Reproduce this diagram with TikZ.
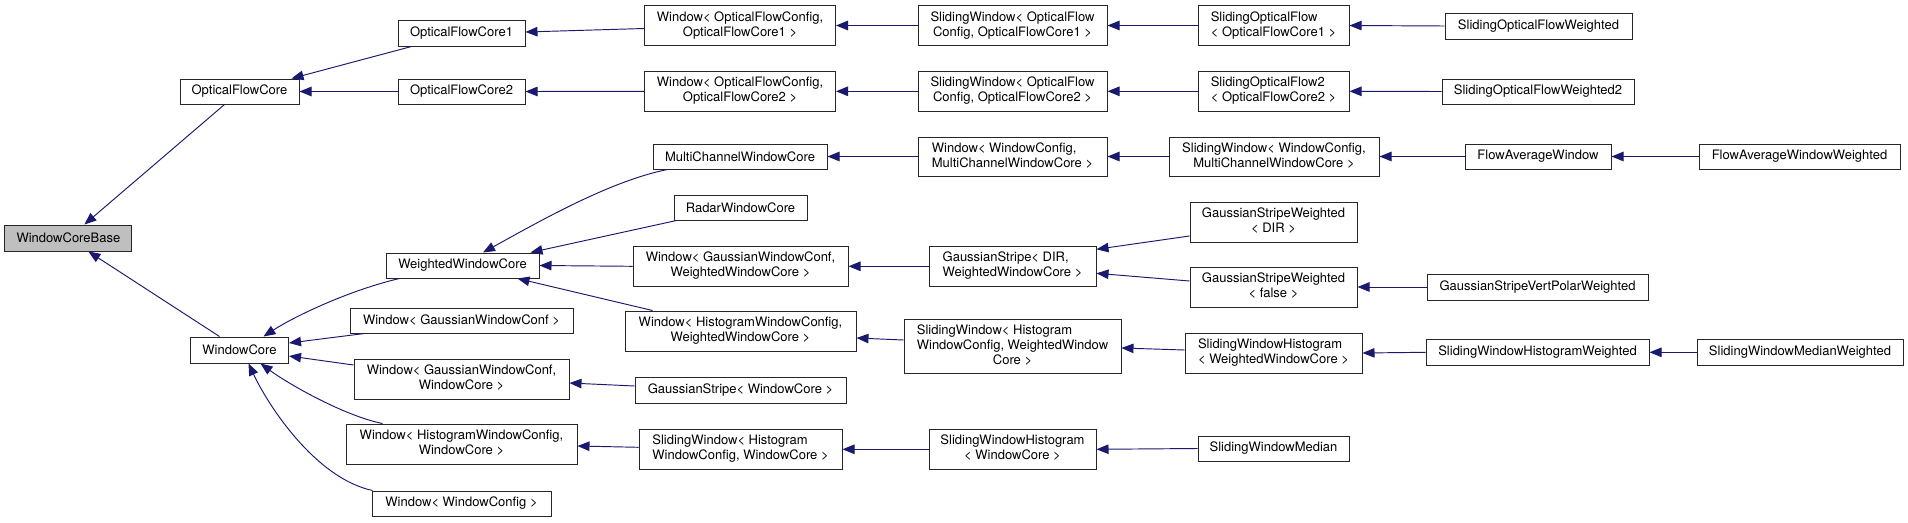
\documentclass[tikz,border=0pt]{standalone}
\usepackage{fontspec}
\setmainfont{TeX Gyre Heros}
\usetikzlibrary{arrows.meta,calc}
\definecolor{edgeblue}{RGB}{25,25,112}
\definecolor{rootgray}{RGB}{191,191,191}
\newcommand{\twoline}[2]{\begin{tabular}{@{}l@{}}#1\\\multicolumn{1}{@{}c@{}}{#2}\end{tabular}}
\newcommand{\threeline}[3]{\begin{tabular}{@{}l@{}}#1\\#2\\\multicolumn{1}{@{}c@{}}{#3}\end{tabular}}
\begin{document}
\begin{tikzpicture}[x=1pt,y=-1pt,
  box/.style={draw=black!85, line width=1pt, fill=white, inner sep=0pt,
    font=\fontsize{13}{15}\selectfont, align=center},
  sz/.style 2 args={minimum width=#1pt, minimum height=#2pt},
  edge/.style={draw=edgeblue, line width=0.95pt, {Triangle[length=12pt,width=9.5pt]}-}]
\fill[white] (0,0) rectangle (1908,522);
\useasboundingbox (0,0) rectangle (1908,522);
% column 1
\node[box,sz={127}{26},fill=rootgray] (wcb) at (68.4,238) {WindowCoreBase};
% column 2
\node[box,sz={119}{25}] (ofc) at (239.5,91.5) {OpticalFlowCore};
\node[box,sz={98}{26}] (wc) at (239.5,350) {WindowCore};
% column 3
\node[box,sz={127}{26}] (ofc1) at (461.5,33) {OpticalFlowCore1};
\node[box,sz={127}{25}] (ofc2) at (461.5,91.5) {OpticalFlowCore2};
\node[box,sz={153}{25}] (wwc) at (462.5,265.5) {WeightedWindowCore};
\node[box,sz={223}{25}] (wg) at (461.5,320.5) {Window< GaussianWindowConf >};
\node[box,sz={215}{40}] (wgc) at (461.5,379) {\twoline{Window< GaussianWindowConf,}{WindowCore >}};
\node[box,sz={231}{40}] (whc) at (461.5,444) {\twoline{Window< HistogramWindowConfig,}{WindowCore >}};
\node[box,sz={179}{25}] (wcfg) at (461.5,503.5) {Window< WindowConfig >};
% column 4
\node[box,sz={191}{40}] (wof1) at (740,25.5) {\twoline{Window< OpticalFlowConfig,}{OpticalFlowCore1 >}};
\node[box,sz={191}{40}] (wof2) at (740,91.3) {\twoline{Window< OpticalFlowConfig,}{OpticalFlowCore2 >}};
\node[box,sz={174}{25}] (mcwc) at (740,156.5) {MultiChannelWindowCore};
\node[box,sz={133}{25}] (rwc) at (740.5,207.5) {RadarWindowCore};
\node[box,sz={215}{40}] (wgw) at (740.5,266.3) {\twoline{Window< GaussianWindowConf,}{WeightedWindowCore >}};
\node[box,sz={231}{40}] (whw) at (740.5,331) {\twoline{Window< HistogramWindowConfig,}{WeightedWindowCore >}};
\node[box,sz={211}{26}] (gswc) at (740.5,390) {GaussianStripe< WindowCore >};
\node[box,sz={203}{40}] (swhc) at (740.5,449.3) {\twoline{SlidingWindow< Histogram}{WindowConfig, WindowCore >}};
% column 5
\node[box,sz={189}{40}] (swof1) at (1012.5,25.5) {\twoline{SlidingWindow< OpticalFlow}{Config, OpticalFlowCore1 >}};
\node[box,sz={189}{40}] (swof2) at (1012.5,91.3) {\twoline{SlidingWindow< OpticalFlow}{Config, OpticalFlowCore2 >}};
\node[box,sz={189}{39}] (wmc) at (1012.5,156.5) {\twoline{Window< WindowConfig,}{MultiChannelWindowCore >}};
\node[box,sz={167}{40}] (gsd) at (1012.5,266.3) {\twoline{GaussianStripe< DIR,}{WeightedWindowCore >}};
\node[box,sz={217}{54}] (swhw) at (1012.5,346) {\threeline{SlidingWindow< Histogram}{WindowConfig, WeightedWindow}{Core >}};
\node[box,sz={167}{40}] (swhist) at (1012.5,449.3) {\twoline{SlidingWindowHistogram}{< WindowCore >}};
% column 6
\node[box,sz={151}{40}] (sof1) at (1273.5,25.5) {\twoline{SlidingOpticalFlow}{< OpticalFlowCore1 >}};
\node[box,sz={151}{40}] (sof2) at (1273.5,91.3) {\twoline{SlidingOpticalFlow2}{< OpticalFlowCore2 >}};
\node[box,sz={210}{39}] (swmc) at (1274,156.5) {\twoline{SlidingWindow< WindowConfig,}{MultiChannelWindowCore >}};
\node[box,sz={167}{40}] (gswd) at (1273.5,222) {\twoline{GaussianStripeWeighted}{< DIR >}};
\node[box,sz={167}{40}] (gswf) at (1273.5,287) {\twoline{GaussianStripeWeighted}{< false >}};
\node[box,sz={177}{40}] (swhwwc) at (1273.5,353) {\twoline{SlidingWindowHistogram}{< WeightedWindowCore >}};
\node[box,sz={151}{25}] (swm) at (1273.5,448.5) {SlidingWindowMedian};
% column 7
\node[box,sz={187}{26}] (sofw) at (1538.5,26) {SlidingOpticalFlowWeighted};
\node[box,sz={192}{25}] (sofw2) at (1538,91.5) {SlidingOpticalFlowWeighted2};
\node[box,sz={146}{25}] (faw) at (1538,156.5) {FlowAverageWindow};
\node[box,sz={221}{26}] (gsvpw) at (1537.5,287) {GaussianStripeVertPolarWeighted};
\node[box,sz={223}{26}] (swhwt) at (1537.5,352.3) {SlidingWindowHistogramWeighted};
% column 8
\node[box,sz={201}{25}] (faww) at (1799.5,156.5) {FlowAverageWindowWeighted};
\node[box,sz={206}{26}] (swmw) at (1800,352.3) {SlidingWindowMedianWeighted};
% edges (tip at base class)
\draw[edge] ($(wcb.north)+(16,0)$) -- ($(ofc.south)+(-15,0)$);
\draw[edge] ($(wcb.south)+(20,0)$) -- ($(wc.north)+(-20,0)$);
\draw[edge] ($(ofc.north east)+(-8,0)$) -- ($(ofc1.south west)+(14,0)$);
\draw[edge] (ofc.east) -- (ofc2.west);
\draw[edge] ($(wc.north)+(24,0)$) .. controls (295,316) and (350,290) .. ($(wwc.south west)+(14,0)$);
\draw[edge] ($(wc.east)+(0,-7)$) -- ($(wg.south west)+(15,0)$);
\draw[edge] ($(wc.east)+(0,6)$) -- ($(wgc.west)+(0,-14)$);
\draw[edge] ($(wc.south)+(21,0)$) .. controls (290,385) and (345,416) .. ($(whc.north west)+(37,0)$);
\draw[edge] ($(wc.south)+(9,0)$) .. controls (268,405) and (315,478) .. ($(wcfg.north west)+(1,0)$);
\draw[edge] ($(ofc1.east)+(0,-1)$) -- ($(wof1.west)+(0,3)$);
\draw[edge] (ofc2.east) -- (wof2.west);
\draw[edge] (wof1.east) -- (swof1.west);
\draw[edge] (wof2.east) -- (swof2.west);
\draw[edge] (swof1.east) -- (sof1.west);
\draw[edge] (swof2.east) -- (sof2.west);
\draw[edge] (sof1.east) -- (sofw.west);
\draw[edge] (sof2.east) -- (sofw2.west);
\draw[edge] ($(wwc.north)+(20.5,0)$) .. controls (540,221) and (610,181) .. ($(mcwc.south west)+(15,0)$);
\draw[edge] ($(wwc.north east)+(-9,0)$) -- ($(rwc.south west)+(3,0)$);
\draw[edge] (wwc.east) -- (wgw.west);
\draw[edge] ($(wwc.south east)+(-22,0)$) -- ($(whw.north west)+(28,0)$);
\draw[edge] ($(wgc.east)+(0,4)$) -- ($(gswc.west)+(0,-4)$);
\draw[edge] ($(whc.east)+(0,2)$) -- ($(swhc.west)+(0,-2)$);
\draw[edge] (mcwc.east) -- (wmc.west);
\draw[edge] (wmc.east) -- (swmc.west);
\draw[edge] (swmc.east) -- (faw.west);
\draw[edge] (faw.east) -- (faww.west);
\draw[edge] (wgw.east) -- (gsd.west);
\draw[edge] ($(gsd.east)+(0,-17)$) -- ($(gswd.west)+(0,14)$);
\draw[edge] ($(gsd.east)+(0,7)$) -- ($(gswf.west)+(0,-6)$);
\draw[edge] (gswf.east) -- (gsvpw.west);
\draw[edge] ($(whw.east)+(0,7)$) -- ($(swhw.west)+(0,-6)$);
\draw[edge] ($(swhw.east)+(0,2)$) -- ($(swhwwc.west)+(0,-3)$);
\draw[edge] (swhwwc.east) -- (swhwt.west);
\draw[edge] (swhwt.east) -- (swmw.west);
\draw[edge] (swhc.east) -- (swhist.west);
\draw[edge] (swhist.east) -- (swm.west);
\end{tikzpicture}
\end{document}
